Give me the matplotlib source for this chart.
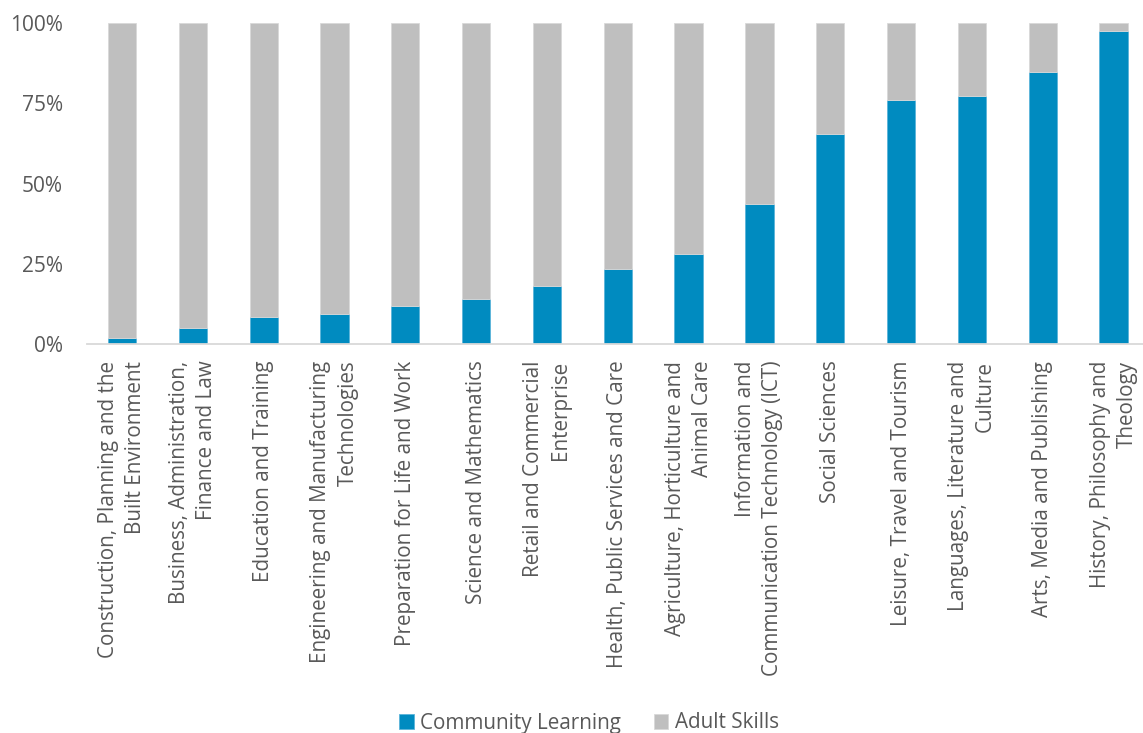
import matplotlib
matplotlib.use("Agg")
import matplotlib.pyplot as plt
from matplotlib.ticker import FuncFormatter

categories = [
    "Construction, Planning and the\nBuilt Environment",
    "Business, Administration,\nFinance and Law",
    "Education and Training",
    "Engineering and Manufacturing\nTechnologies",
    "Preparation for Life and Work",
    "Science and Mathematics",
    "Retail and Commercial\nEnterprise",
    "Health, Public Services and Care",
    "Agriculture, Horticulture and\nAnimal Care",
    "Information and\nCommunication Technology (ICT)",
    "Social Sciences",
    "Leisure, Travel and Tourism",
    "Languages, Literature and\nCulture",
    "Arts, Media and Publishing",
    "History, Philosophy and\nTheology",
]
community_learning = [1.9, 5.0, 8.4, 9.3, 12.0, 14.0, 18.0, 23.5, 28.1, 43.5, 65.6, 76.2, 77.4, 84.7, 97.6]
adult_skills = [100 - v for v in community_learning]

blue = "#008BC0"
grey = "#BFBFBF"
text_col = "#595959"

plt.rcParams['font.family'] = ['Open Sans', 'DejaVu Sans']

fig = plt.figure(figsize=(11.43, 7.33), dpi=100)
ax = fig.add_axes([86.6 / 1143, 1 - 344 / 733, (1149 - 86.6) / 1143, (344 - 23.3) / 733])

x = range(len(categories))
ax.bar(x, community_learning, width=0.4, color=blue, edgecolor="#5AB4DA", linewidth=0.6,
       label="Community Learning", zorder=2)
ax.bar(x, adult_skills, width=0.4, bottom=community_learning, color=grey,
       edgecolor="#D9D9D9", linewidth=0.6, label="Adult Skills", zorder=2)

ax.set_xlim(-0.5, len(categories) - 0.5)
ax.set_ylim(0, 100)
ax.set_yticks([0, 25, 50, 75, 100])
ax.yaxis.set_major_formatter(FuncFormatter(lambda v, p: f"{v:.0f}%"))
ax.tick_params(axis='y', length=0, labelsize=15, labelcolor=text_col, pad=17)
ax.set_xticks(list(x))
ax.set_xticklabels(categories, rotation=90, ha='center', va='top',
                   multialignment='right', linespacing=1.38)
ax.tick_params(axis='x', length=0, labelsize=14.9, labelcolor=text_col, pad=12)

for side in ["top", "right", "left"]:
    ax.spines[side].set_visible(False)
ax.spines["bottom"].set_color("#D9D9D9")
ax.spines["bottom"].set_linewidth(1.3)

fig.legend(loc='center', bbox_to_anchor=(589 / 1143, 1 - 723 / 733), ncol=2,
           frameon=False, fontsize=14.9, labelcolor=text_col, handlelength=0.7,
           handleheight=0.7, handletextpad=0.3, columnspacing=1.6)

fig.savefig("out.png", dpi=100)
